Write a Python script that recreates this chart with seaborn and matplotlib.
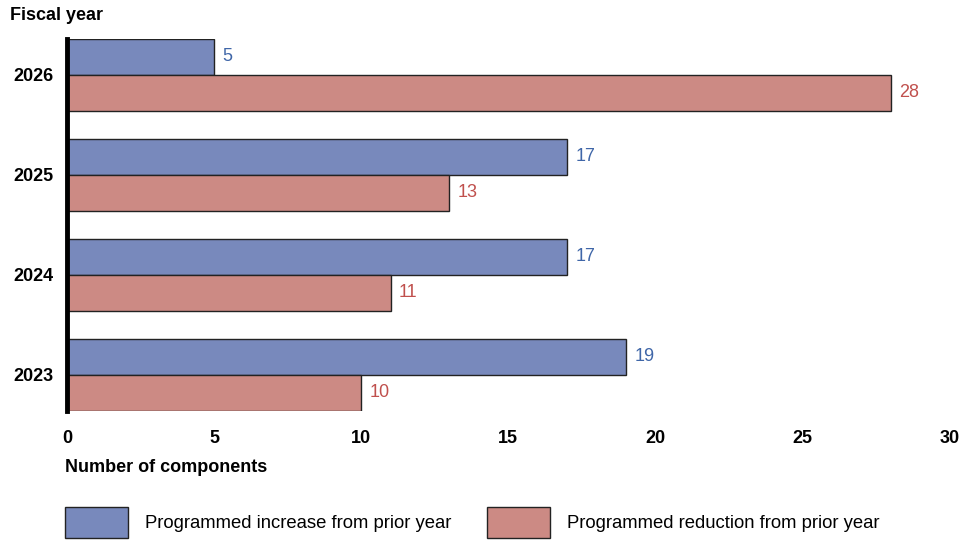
import numpy as np
import pandas as pd
import matplotlib
matplotlib.use("Agg")
import matplotlib.pyplot as plt
import seaborn as sns

years = ["2026", "2025", "2024", "2023"]
increase = [5, 17, 17, 19]
reduction = [28, 13, 11, 10]
series = ["Programmed increase from prior year", "Programmed reduction from prior year"]

bar_colors = ["#7889BC", "#CC8A84"]
text_colors = ["#3F66A8", "#C0504D"]

sns.set_style("white")
plt.rcParams["font.family"] = ["Liberation Sans", "DejaVu Sans"]
plt.rcParams["text.color"] = "black"
plt.rcParams["xtick.color"] = "black"
plt.rcParams["ytick.color"] = "black"

df = pd.DataFrame({
    "year": years * 2,
    "value": increase + reduction,
    "series": [series[0]] * len(years) + [series[1]] * len(years),
})

fig = plt.figure(figsize=(9.8, 5.4), dpi=100)
ax = fig.add_axes([0.0684, 0.239, 0.9006, 0.689])

sns.barplot(data=df, x="value", y="year", hue="series", order=years,
            hue_order=series, palette=bar_colors, width=0.72, orient="h",
            edgecolor="#222222", linewidth=1.0, saturation=1, ax=ax, legend=False)

# value labels
for i, cont in enumerate(ax.containers):
    ax.bar_label(cont, labels=[str(int(v)) for v in cont.datavalues], padding=6,
                 color=text_colors[i], fontsize=13)

ax.set_xlim(0, 30)
ax.set_ylim(3.36, -0.36)
ax.set_xticks([0, 5, 10, 15, 20, 25, 30])
ax.tick_params(axis="both", length=0)
ax.tick_params(axis="x", pad=14)
ax.tick_params(axis="y", pad=10)
for lbl in ax.get_xticklabels() + ax.get_yticklabels():
    lbl.set_fontweight("bold")
    lbl.set_fontsize(13)
ax.set_xlabel("")
ax.set_ylabel("")
for s in ["top", "right", "bottom"]:
    ax.spines[s].set_visible(False)
ax.spines["left"].set_linewidth(3.5)
ax.spines["left"].set_color("black")

fig.text(10 / 980, 1 - 16 / 540, "Fiscal year", fontsize=13, fontweight="bold",
         ha="left", va="center")
fig.text(65 / 980, 1 - 468 / 540, "Number of components", fontsize=13,
         fontweight="bold", ha="left", va="center")

handles = [plt.Rectangle((0, 0), 1, 1, facecolor=c, edgecolor="#222222", linewidth=1.0)
           for c in bar_colors]
fig.legend(handles, series, loc="upper left", bbox_to_anchor=(65 / 980, 1 - 507 / 540),
           ncol=2, frameon=False, fontsize=13.3, handlelength=3.4, handleheight=2.2,
           handletextpad=0.95, columnspacing=1.9, borderpad=0, borderaxespad=0)

fig.savefig("out.png", dpi=100)
